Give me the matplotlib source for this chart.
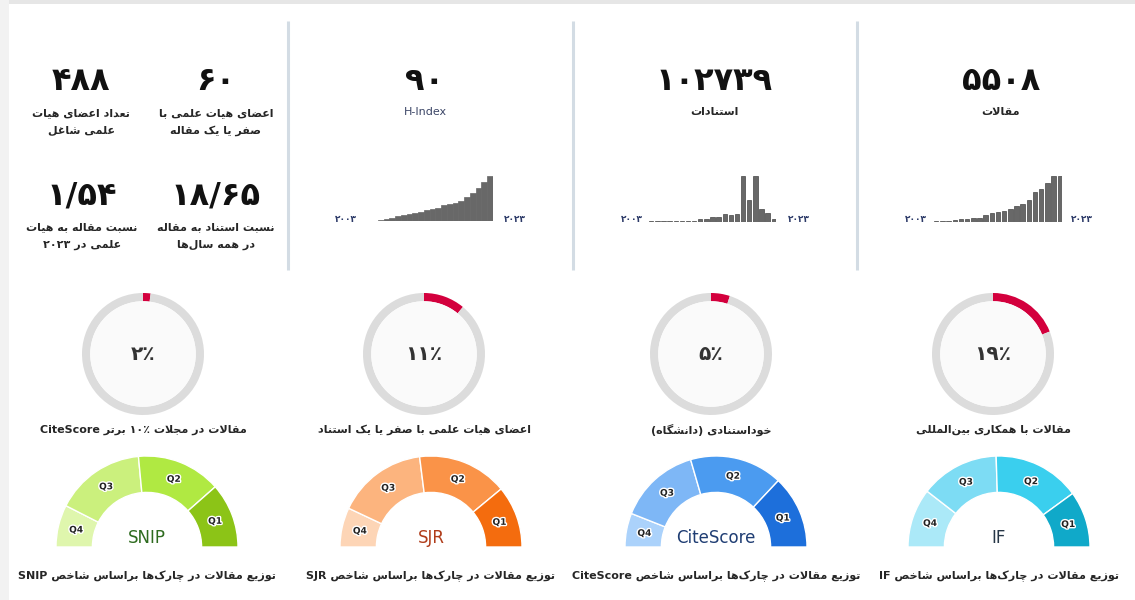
import matplotlib
matplotlib.use("Agg")
import matplotlib.pyplot as plt
from matplotlib.patches import Rectangle, Circle
import matplotlib.patheffects as pe
import numpy as np

W, H = 1135, 600

# ---------------- data ----------------
staff_count = 488
staff_low_output = 60
articles_per_staff_2023 = 1.54
citations_per_article = 18.65
stat_labels = [["تعداد اعضای هیات", "علمی شاغل"],
               ["اعضای هیات علمی با", "صفر یا یک مقاله"],
               ["نسبت مقاله به هیات", "علمی در ۲۰۲۳"],
               ["نسبت استناد به مقاله", "در همه سال‌ها"]]

years = list(range(2003, 2024))
hindex_by_year = [1, 3, 5, 7, 10, 12, 15, 17, 19, 22, 25, 27, 32, 35, 37, 40, 48, 57, 67, 79, 90]
citations_by_year = [350, 380, 720, 700, 740, 760, 730, 780, 1450, 1820, 2700, 2900,
                     4350, 3600, 4300, 25200, 12300, 25150, 7250, 5050, 1450]
articles_by_year = [12, 10, 13, 28, 45, 47, 68, 71, 125, 160, 182, 185, 230, 272, 318,
                    390, 524, 570, 668, 790, 798]
h_index = 90
total_citations = 102739
total_articles = 5508
kpi_titles = ["H-Index", "استنادات", "مقالات"]

donut_labels = ["مقالات در مجلات ۱۰٪ برتر CiteScore",
                "اعضای هیات علمی با صفر یا یک استناد",
                "خوداستنادی (دانشگاه)",
                "مقالات با همکاری بین‌المللی"]
donut_percents = [2, 11, 5, 19]

gauge_names = ["SNIP", "SJR", "CiteScore", "IF"]
quartile_names = ["Q4", "Q3", "Q2", "Q1"]
# share of articles per quartile (Q4, Q3, Q2, Q1)
snip_shares = [15, 32, 30, 23]
sjr_shares = [14, 32, 32, 22]
citescore_shares = [12, 29, 33, 26]
if_shares = [21, 28, 31, 20]
gauge_caption = "توزیع مقالات در چارک‌ها براساس شاخص "

# ---------------- Persian text helpers ----------------
FORMS = {
    '\u0621': (0xFE80, None, None, None),
    '\u0622': (0xFE81, 0xFE82, None, None),
    '\u0623': (0xFE83, 0xFE84, None, None),
    '\u0624': (0xFE85, 0xFE86, None, None),
    '\u0625': (0xFE87, 0xFE88, None, None),
    '\u0626': (0xFE89, 0xFE8A, 0xFE8B, 0xFE8C),
    '\u0627': (0xFE8D, 0xFE8E, None, None),
    '\u0628': (0xFE8F, 0xFE90, 0xFE91, 0xFE92),
    '\u0629': (0xFE93, 0xFE94, None, None),
    '\u062A': (0xFE95, 0xFE96, 0xFE97, 0xFE98),
    '\u062B': (0xFE99, 0xFE9A, 0xFE9B, 0xFE9C),
    '\u062C': (0xFE9D, 0xFE9E, 0xFE9F, 0xFEA0),
    '\u062D': (0xFEA1, 0xFEA2, 0xFEA3, 0xFEA4),
    '\u062E': (0xFEA5, 0xFEA6, 0xFEA7, 0xFEA8),
    '\u062F': (0xFEA9, 0xFEAA, None, None),
    '\u0630': (0xFEAB, 0xFEAC, None, None),
    '\u0631': (0xFEAD, 0xFEAE, None, None),
    '\u0632': (0xFEAF, 0xFEB0, None, None),
    '\u0633': (0xFEB1, 0xFEB2, 0xFEB3, 0xFEB4),
    '\u0634': (0xFEB5, 0xFEB6, 0xFEB7, 0xFEB8),
    '\u0635': (0xFEB9, 0xFEBA, 0xFEBB, 0xFEBC),
    '\u0636': (0xFEBD, 0xFEBE, 0xFEBF, 0xFEC0),
    '\u0637': (0xFEC1, 0xFEC2, 0xFEC3, 0xFEC4),
    '\u0638': (0xFEC5, 0xFEC6, 0xFEC7, 0xFEC8),
    '\u0639': (0xFEC9, 0xFECA, 0xFECB, 0xFECC),
    '\u063A': (0xFECD, 0xFECE, 0xFECF, 0xFED0),
    '\u0641': (0xFED1, 0xFED2, 0xFED3, 0xFED4),
    '\u0642': (0xFED5, 0xFED6, 0xFED7, 0xFED8),
    '\u0643': (0xFED9, 0xFEDA, 0xFEDB, 0xFEDC),
    '\u0644': (0xFEDD, 0xFEDE, 0xFEDF, 0xFEE0),
    '\u0645': (0xFEE1, 0xFEE2, 0xFEE3, 0xFEE4),
    '\u0646': (0xFEE5, 0xFEE6, 0xFEE7, 0xFEE8),
    '\u0647': (0xFEE9, 0xFEEA, 0xFEEB, 0xFEEC),
    '\u0648': (0xFEED, 0xFEEE, None, None),
    '\u0649': (0xFEEF, 0xFEF0, None, None),
    '\u064A': (0xFEF1, 0xFEF2, 0xFEF3, 0xFEF4),
    '\u067E': (0xFB56, 0xFB57, 0xFB58, 0xFB59),
    '\u0686': (0xFB7A, 0xFB7B, 0xFB7C, 0xFB7D),
    '\u0698': (0xFB8A, 0xFB8B, None, None),
    '\u06A9': (0xFB8E, 0xFB8F, 0xFB90, 0xFB91),
    '\u06AF': (0xFB92, 0xFB93, 0xFB94, 0xFB95),
    '\u06CC': (0xFBFC, 0xFBFD, 0xFBFE, 0xFBFF),
}
LAM_ALEF = {'\u0627': (0xFEFB, 0xFEFC), '\u0622': (0xFEF5, 0xFEF6)}


def _dual(c):
    return c in FORMS and FORMS[c][2] is not None


def _joins_right(c):
    return c in FORMS and FORMS[c][1] is not None


def shape(s):
    out = []
    i, n = 0, len(s)
    while i < n:
        c = s[i]
        if c not in FORMS:
            if c != '\u200c':
                out.append(c)
            i += 1
            continue
        prev = s[i - 1] if i > 0 else ''
        jp = _dual(prev) and _joins_right(c)
        if c == '\u0644' and i + 1 < n and s[i + 1] in LAM_ALEF:
            iso, fin = LAM_ALEF[s[i + 1]]
            out.append(chr(fin if jp else iso))
            i += 2
            continue
        nxt = s[i + 1] if i + 1 < n else ''
        jn = _dual(c) and _joins_right(nxt)
        iso, fin, ini, med = FORMS[c]
        g = med if (jp and jn) else fin if jp else ini if jn else iso
        out.append(chr(g))
        i += 1
    return ''.join(out)


def _is_ltr(c):
    return (c.isascii() and c.isalnum()) or ('\u06F0' <= c <= '\u06F9') or c in '\u066A%/'


def fa(s):
    if not any('\u0600' <= c <= '\u06FF' and not ('\u06F0' <= c <= '\u06F9') and c != '\u066A' for c in s):
        return s
    tokens = []
    cur, cur_ltr = '', None
    for c in s:
        l = _is_ltr(c)
        if cur and l != cur_ltr:
            tokens.append((cur, cur_ltr))
            cur = ''
        cur += c
        cur_ltr = l
    if cur:
        tokens.append((cur, cur_ltr))
    mirror = {'(': ')', ')': '('}
    res = []
    for tok, ltr in reversed(tokens):
        if ltr:
            res.append(tok)
        else:
            res.append(''.join(mirror.get(ch, ch) for ch in reversed(shape(tok))))
    return ''.join(res)


def pdig(x):
    return str(x).translate(str.maketrans('0123456789.', '۰۱۲۳۴۵۶۷۸۹/'))


# ---------------- figure ----------------
FONT = 'DejaVu Sans'
fig = plt.figure(figsize=(W / 100, H / 100), dpi=100, facecolor='white')
bg = fig.add_axes([0, 0, 1, 1])
bg.set_xlim(0, W)
bg.set_ylim(H, 0)
bg.axis('off')


def box(x0, y0, x1, y1):
    return [x0 / W, 1 - y1 / H, (x1 - x0) / W, (y1 - y0) / H]


# frame shading
bg.add_patch(Rectangle((0, 0), W, 4, color='#e6e6e6', lw=0))
bg.add_patch(Rectangle((0, 0), 9, H, color='#f2f2f2', lw=0))

# separators
for sx in [288, 573, 857]:
    bg.plot([sx, sx], [21, 270], color='#d3dce4', lw=2.2, solid_capstyle='butt')

TXT = '#262626'
LBL = dict(fontsize=8.0, fontweight='bold', family=FONT, color=TXT)
BIG = dict(fontsize=23, fontweight='bold', family=FONT, color='#111111')

# top-left stats
stat_vals = [pdig(staff_count), pdig(staff_low_output),
             pdig(articles_per_staff_2023), pdig(citations_per_article)]
stat_pos = [(81, 82), (216, 82), (82, 196), (216, 196)]
for (x, y), v, lab in zip(stat_pos, stat_vals, stat_labels):
    bg.text(x, y, v, ha='center', va='center', **BIG)
    bg.text(x, y + 31, fa(lab[0]), ha='center', va='center', **LBL)
    bg.text(x, y + 49, fa(lab[1]), ha='center', va='center', **LBL)

# KPI headers + sparklines
kpi_vals = [pdig(h_index), pdig(total_citations), pdig(total_articles)]
kpi_x = [425, 714, 1001]
for x, v, t in zip(kpi_x, kpi_vals, kpi_titles):
    bg.text(x, 82, v, ha='center', va='center', **BIG)
    if t == 'H-Index':
        bg.text(x, 112, t, ha='center', va='center', fontsize=8, family=FONT,
                color='#3b4566')
    else:
        bg.text(x, 112, fa(t), ha='center', va='center', **LBL)

spark_boxes = [(372, 176, 493, 221), (649, 176, 776, 222), (934, 176, 1062, 222)]
spark_data = [hindex_by_year, citations_by_year, articles_by_year]
spark_widths = [1.0, 0.72, 0.72]
year_lab_x = [(346, 515), (632, 799), (916, 1082)]
first_year, last_year = pdig(years[0]), pdig(years[-1])
for b, vals, wdt, (lx, rx) in zip(spark_boxes, spark_data, spark_widths, year_lab_x):
    ax = fig.add_axes(box(*b))
    xs = np.arange(len(vals))
    ax.bar(xs, vals, width=wdt, color='#686868', edgecolor='#454545' if wdt < 1 else '#686868',
           linewidth=0.5)
    ax.set_xlim(-wdt / 2, len(vals) - 1 + wdt / 2)
    ax.set_ylim(0, max(vals))
    ax.axis('off')
    bg.text(lx, 220, first_year, ha='center', va='center', fontsize=6.5,
            fontweight='bold', family=FONT, color='#2c3a68')
    bg.text(rx, 220, last_year, ha='center', va='center', fontsize=6.5,
            fontweight='bold', family=FONT, color='#2c3a68')

# donuts
donut_x = [143, 424, 711, 993]
donut_y = 354
R_d = 61
for cx, pct, lab in zip(donut_x, donut_percents, donut_labels):
    ax = fig.add_axes(box(cx - R_d, donut_y - R_d, cx + R_d, donut_y + R_d))
    ax.pie([pct, 100 - pct], colors=['#d3003d', '#dcdcdc'], startangle=90,
           counterclock=False, wedgeprops=dict(width=0.135, edgecolor='none'))
    ax.add_patch(Circle((0, 0), 0.865, color='#fafafa', lw=0))
    ax.set_xlim(-1, 1)
    ax.set_ylim(-1, 1)
    ax.axis('off')
    ax.text(0, 0, pdig(pct) + '٪', ha='center', va='center', fontsize=14.5,
            fontweight='bold', family=FONT, color='#333333')
    bg.text(cx, 430, fa(lab), ha='center', va='center', **LBL)

# gauges
gauge_x = [147, 431, 716, 999]
gauge_y = 547
R_g = 91
gauge_shares = [snip_shares, sjr_shares, citescore_shares, if_shares]
gauge_colors = [
    ['#dff6ad', '#cbf07d', '#b0e942', '#8cc417'],
    ['#fdd5b6', '#fcb47e', '#fa9348', '#f46c0e'],
    ['#abd2fb', '#7eb7f6', '#4b9bf0', '#1d6fdb'],
    ['#abe9f8', '#7ddcf4', '#3acfee', '#10a9c9'],
]
name_colors = ['#2e6b1f', '#b03c1a', '#1f3d73', '#263646']
for cx, shares, cols, name, ncol in zip(gauge_x, gauge_shares, gauge_colors,
                                        gauge_names, name_colors):
    ax = fig.add_axes(box(cx - R_g, gauge_y - R_g, cx + R_g, gauge_y))
    vals = list(shares) + [sum(shares)]
    wedges, _ = ax.pie(vals, colors=cols + ['white'], startangle=180, counterclock=False,
                       wedgeprops=dict(width=0.4, edgecolor='white', linewidth=1.0))
    wedges[-1].set_visible(False)
    for w, q in zip(wedges[:-1], quartile_names):
        w.set_clip_on(False)
        ang = np.deg2rad((w.theta1 + w.theta2) / 2)
        ax.text(0.8 * np.cos(ang), 0.8 * np.sin(ang), q, ha='center', va='center',
                fontsize=6.5, fontweight='bold', family=FONT, color='#222222',
                path_effects=[pe.withStroke(linewidth=2, foreground='white')])
    ax.set_xlim(-1, 1)
    ax.set_ylim(0, 1)
    ax.axis('off')
    ax.text(0, 0.1, name, ha='center', va='center', fontsize=12, family=FONT, color=ncol)
    bg.text(cx, 576, fa(gauge_caption + name), ha='center', va='center', **LBL)

fig.savefig('out.png', dpi=100, facecolor='white')
